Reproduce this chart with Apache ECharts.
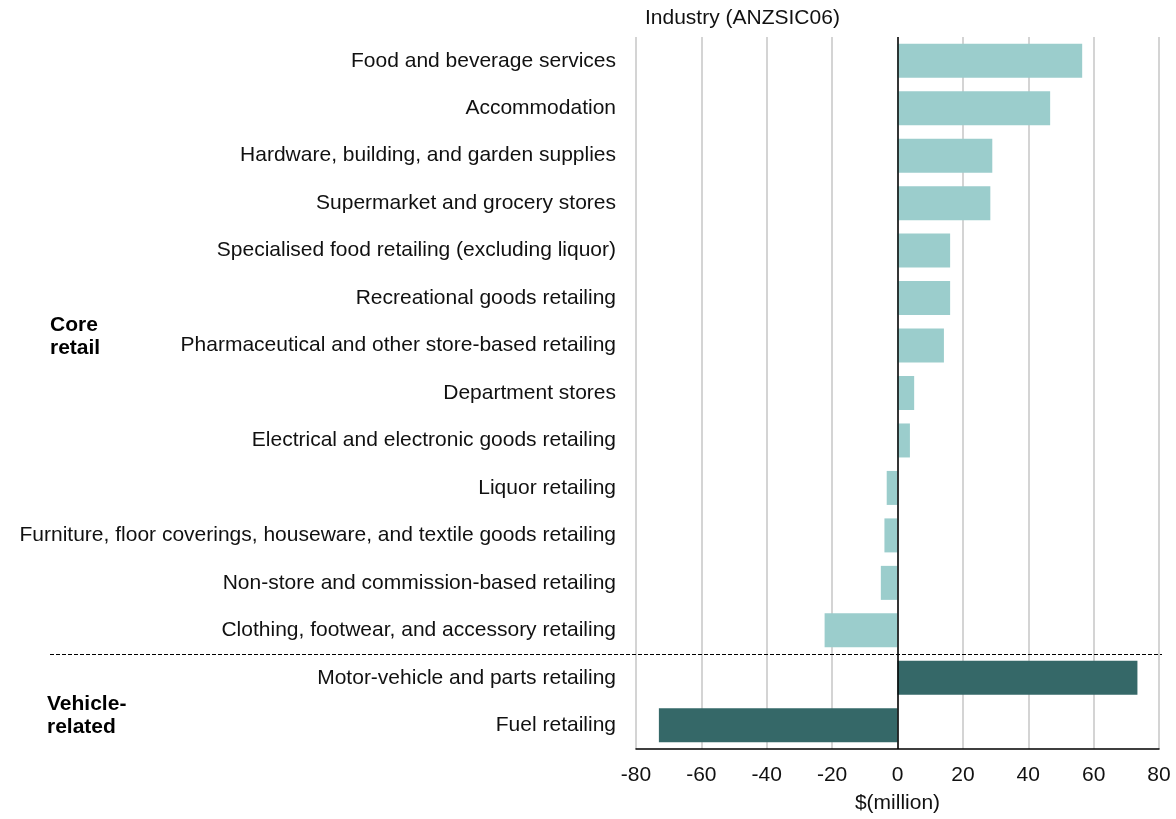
<!DOCTYPE html>
<html>
<head>
<meta charset="utf-8">
<script src="https://cdn.jsdelivr.net/npm/echarts@6/dist/echarts.min.js"></script>
<style>html,body{margin:0;padding:0;background:#fff}#c{width:1176px;height:819px}</style>
</head>
<body>
<div id="c"></div>
<script>
const categories = [
  "Food and beverage services",
  "Accommodation",
  "Hardware, building, and garden supplies",
  "Supermarket and grocery stores",
  "Specialised food retailing (excluding liquor)",
  "Recreational goods retailing",
  "Pharmaceutical and other store-based retailing",
  "Department stores",
  "Electrical and electronic goods retailing",
  "Liquor retailing",
  "Furniture, floor coverings, houseware, and textile goods retailing",
  "Non-store and commission-based retailing",
  "Clothing, footwear, and accessory retailing",
  "Motor-vehicle and parts retailing",
  "Fuel retailing"
];
const coreRetail = [56.5, 46.7, 29.0, 28.4, 16.1, 16.1, 14.2, 5.1, 3.8, -3.3, -4.0, -5.1, -22.3, null, null];
const vehicleRelated = [null, null, null, null, null, null, null, null, null, null, null, null, null, 73.4, -73.0];
const xTicks = { min: -80, max: 80, interval: 20 };
const groupLabels = ["Core\nretail", "Vehicle-\nrelated"];

const FONT = "Liberation Sans";
const FS = 21;
const chart = echarts.init(document.getElementById('c'), null, { renderer: 'canvas' });
const option = {
  animation: false,
  backgroundColor: '#ffffff',
  title: {
    text: 'Industry (ANZSIC06)',
    left: 640, top: 3,
    textStyle: { fontFamily: FONT, fontSize: FS, fontWeight: 'normal', color: '#111' }
  },
  grid: { left: 636, right: 17, top: 37, bottom: 69, containLabel: false },
  xAxis: {
    type: 'value', min: xTicks.min, max: xTicks.max, interval: xTicks.interval,
    name: '$(million)', nameLocation: 'middle', nameGap: 44,
    nameTextStyle: { fontFamily: FONT, fontSize: FS, color: '#111' },
    axisLine: { show: true, onZero: false, lineStyle: { color: '#000', width: 1.5 } },
    axisTick: { show: false },
    axisLabel: { fontFamily: FONT, fontSize: FS, color: '#111', margin: 16 },
    splitLine: { show: true, lineStyle: { color: '#d4d4d4', width: 2 } }
  },
  yAxis: {
    type: 'category', data: categories, inverse: true,
    axisLine: { show: false },
    axisTick: { show: false },
    axisLabel: { fontFamily: FONT, fontSize: FS, color: '#111', margin: 20 },
    splitLine: { show: false }
  },
  series: [
    {
      name: 'Core retail', type: 'bar', stack: 'all', data: coreRetail, barWidth: 34,
      itemStyle: { color: '#9bcdcc' },
      markLine: {
        silent: true, symbol: 'none', label: { show: false },
        lineStyle: { color: '#000', type: 'solid', width: 1.5 },
        data: [{ xAxis: 0 }]
      }
    },
    {
      name: 'Vehicle-related', type: 'bar', stack: 'all', data: vehicleRelated, barWidth: 34,
      itemStyle: { color: '#356868' }
    }
  ]
};
chart.setOption(option);

function addGraphics() {
  const py = i => chart.convertToPixel({ yAxisIndex: 0 }, categories[i]);
  const ySep = Math.round((py(12) + py(13)) / 2) + 0.5;
  const yCore = py(6) - 9;
  const yVeh = (py(13) + py(14)) / 2 + 14;
  chart.setOption({
    graphic: [
      { type: 'line', shape: { x1: 50, y1: ySep, x2: 1162, y2: ySep },
        style: { stroke: '#000', lineWidth: 1.2, lineDash: [4, 2] }, z: 100 },
      { type: 'text', x: 50, y: yCore, style: { text: groupLabels[0], font: 'bold 21px "' + FONT + '"', fill: '#000', verticalAlign: 'middle', lineHeight: 23 } },
      { type: 'text', x: 47, y: yVeh, style: { text: groupLabels[1], font: 'bold 21px "' + FONT + '"', fill: '#000', verticalAlign: 'middle', lineHeight: 23 } }
    ]
  });
}
addGraphics();
</script>
</body>
</html>
